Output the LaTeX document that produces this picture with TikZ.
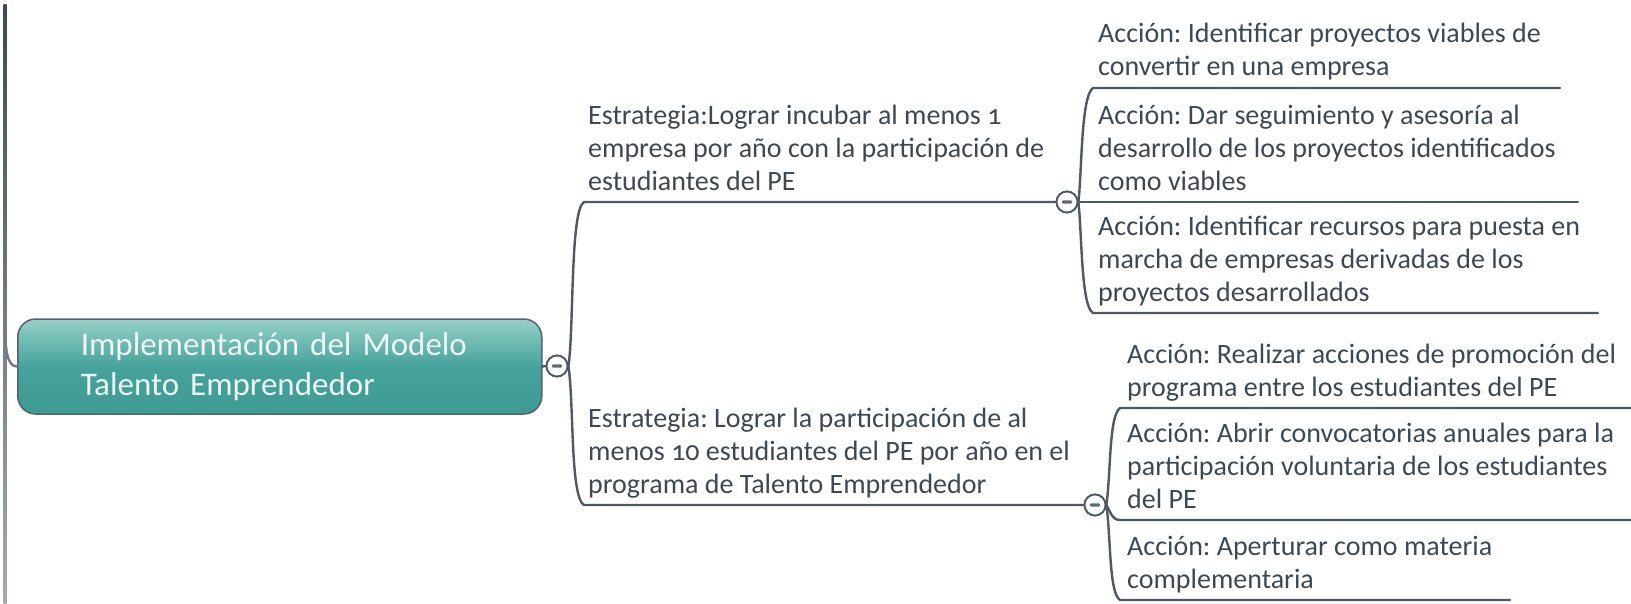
\documentclass[tikz,border=0pt]{standalone}
\usepackage{fontspec}
\setmainfont{Carlito}[Numbers=OldStyle]
\frenchspacing
\definecolor{linecol}{HTML}{4D5966}
\definecolor{textcol}{HTML}{3E4853}
\definecolor{minuscol}{HTML}{5F6A75}
\definecolor{tealtop}{HTML}{97D0C8}
\definecolor{tealmid}{HTML}{45A39B}
\definecolor{tealbot}{HTML}{3D9B93}
\definecolor{rootborder}{HTML}{56636B}
\definecolor{roottext}{HTML}{EEF5F4}
\definecolor{leftdark}{HTML}{3E4957}
\definecolor{leftlight}{HTML}{A3ABB3}
\begin{document}
\begin{tikzpicture}[x=1pt,y=-1pt,
  conn/.style={draw=linecol, line width=2.4pt, line cap=round},
  txt/.style={text=textcol, font=\fontsize{28}{33}\selectfont\frenchspacing, align=left, anchor=base west, inner sep=0pt},
  toggle/.style={circle, draw=linecol, line width=1.8pt, fill=white, minimum size=21pt, inner sep=0pt,
    path picture={\fill[minuscol, rounded corners=1pt] ([xshift=-5pt,yshift=-1.7pt]path picture bounding box.center) rectangle ([xshift=5pt,yshift=1.7pt]path picture bounding box.center);}},
  rootbox/.style={rounded corners=18pt, draw=rootborder, line width=1.5pt,
    top color=tealtop, bottom color=tealbot, middle color=tealmid,
    minimum height=95pt, text width=398pt, inner xsep=63pt, inner ysep=0pt, align=left,
    text=roottext, font=\fontsize{33}{40}\selectfont, anchor=west}
]
\useasboundingbox (0,0) rectangle (1631,603);
\fill[white] (0,0) rectangle (1631,603);

% parent line on the left
\shade[top color=leftdark, bottom color=leftlight] (3.5,4) rectangle (6.5,603);
\coordinate (lp) at (5,325);

% root
\node[rootbox] (root) at (17,366.5) {Implementación del Modelo\\Talento Emprendedor};
\draw[conn, draw=linecol!80] (lp) .. controls (5,352) and (8,366.5) .. (root.west);

% toggles
\node[toggle] (c1) at (557,366) {};
\node[toggle] (c2) at (1067,202) {};
\node[toggle] (c3) at (1095,505) {};

\draw[conn] (root.east) -- (c1.west);

% strategies (anchor = baseline of last line)
\node[txt] (s1) at (588,190) {Estrategia:Lograr incubar al menos 1\\empresa por año con la participación de\\estudiantes del PE};
\node[txt] (s2) at (588,493) {Estrategia: Lograr la participación de al\\menos 10 estudiantes del PE por año en el\\programa de Talento Emprendedor};

\coordinate (s1l) at (584,202);
\coordinate (s2l) at (584,505);
\draw[conn] (c1.east) .. controls (574,330) and (570,210) .. (s1l) -- (c2.west);
\draw[conn] (c1.east) .. controls (574,402) and (570,497) .. (s2l) -- (c3.west);

% actions group 1
\node[txt] (a1) at (1098,75) {Acción: Identificar proyectos viables de\\convertir en una empresa};
\node[txt] (a2) at (1098,190) {Acción: Dar seguimiento y asesoría al\\desarrollo de los proyectos identificados\\como viables};
\node[txt] (a3) at (1098,301) {Acción: Identificar recursos para puesta en\\marcha de empresas derivadas de los\\proyectos desarrollados};

\coordinate (a1l) at (1093,88);  \coordinate (a1r) at (1560,88);
\coordinate (a2r) at (1578,202);
\coordinate (a3l) at (1093,313); \coordinate (a3r) at (1598,313);
\draw[conn] (c2.east) .. controls (1082,170) and (1081,96) .. (a1l) -- (a1r);
\draw[conn] (c2.east) -- (a2r);
\draw[conn] (c2.east) .. controls (1082,234) and (1081,306) .. (a3l) -- (a3r);

% actions group 2
\node[txt] (a4) at (1127,396) {Acción: Realizar acciones de promoción del\\programa entre los estudiantes del PE};
\node[txt] (a5) at (1127,508) {Acción: Abrir convocatorias anuales para la\\participación voluntaria de los estudiantes\\del PE};
\node[txt] (a6) at (1127,588) {Acción: Aperturar como materia\\complementaria};

\coordinate (a4l) at (1120,408); \coordinate (a4r) at (1631,408);
\coordinate (a5l) at (1120,520); \coordinate (a5r) at (1631,520);
\coordinate (a6l) at (1120,600); \coordinate (a6r) at (1510,600);
\draw[conn] (c3.east) .. controls (1111,470) and (1109,416) .. (a4l) -- (a4r);
\draw[conn] (c3.east) .. controls (1110,511) and (1112,520) .. (a5l) -- (a5r);
\draw[conn] (c3.east) .. controls (1111,540) and (1109,593) .. (a6l) -- (a6r);

% redraw toggles on top
\node[toggle] at (c1) {};
\node[toggle] at (c2) {};
\node[toggle] at (c3) {};
\end{tikzpicture}
\end{document}
